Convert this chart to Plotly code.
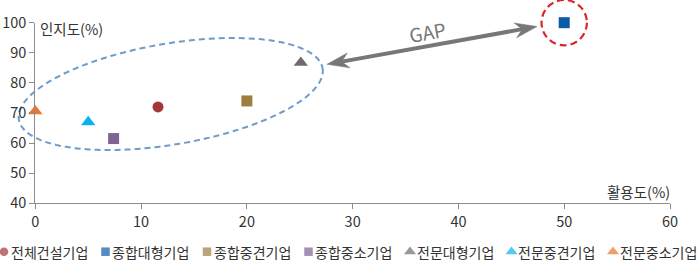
import math
import plotly.graph_objects as go

# ---------------- data ----------------
categories = ['전체건설기업', '종합대형기업', '종합중견기업', '종합중소기업',
              '전문대형기업', '전문중견기업', '전문중소기업']
utilization = [11.6, 50, 20, 7.4, 25.1, 5, 0]          # 활용도(%)
awareness = [72, 100, 74, 61.5, 86.7, 67, 70.6]        # 인지도(%)
x_ticks = [0, 10, 20, 30, 40, 50, 60]
y_ticks = [40, 50, 60, 70, 80, 90, 100]

# ---------------- styles ----------------
symbols = ['circle', 'square', 'square', 'square',
           'triangle-up', 'triangle-up', 'triangle-up']
colors = ['#a3373b', '#0b5aa7', '#9c7e40', '#7f6491',
          '#6d6d6f', '#08b2ef', '#e8782a']
sizes = [11, 11, 11, 11, 12.5, 12.5, 12.5]
legend_sizes = [8.5, 8.5, 8.5, 8.5, 10.5, 10.5, 10.5]

FONT = 'Noto Sans CJK KR, Noto Sans, sans-serif'
W, H = 700, 273
PX_L, PX_R = 35.33, 670.0      # plot area pixel edges
PY_T, PY_B = 22.67, 203.3
XR = (0, 60)
YR = (40, 100)


def px_x(v):
    return PX_L + (v - XR[0]) / (XR[1] - XR[0]) * (PX_R - PX_L)


def px_y(v):
    return PY_T + (YR[1] - v) / (YR[1] - YR[0]) * (PY_B - PY_T)


def pap_x(p):
    return p / W


def pap_y(p):
    return 1 - p / H


fig = go.Figure()

for i, name in enumerate(categories):
    fig.add_trace(go.Scatter(
        x=[utilization[i]], y=[awareness[i]], mode='markers', name=name,
        marker=dict(symbol=symbols[i], color=colors[i], size=sizes[i], line=dict(width=0)),
        cliponaxis=False, showlegend=False, hoverinfo='name+x+y'))

# custom compact legend on a hidden pixel-scaled axis
LEG_Y = 251.7
LEG_X0 = 4
LEG_PITCH = 101.5
leg_x = [LEG_X0 + i * LEG_PITCH for i in range(len(categories))]
fig.add_trace(go.Scatter(
    x=leg_x, y=[LEG_Y] * len(categories), mode='markers', xaxis='x2', yaxis='y2',
    marker=dict(symbol=symbols, color=colors, size=legend_sizes, line=dict(width=0)),
    cliponaxis=False, showlegend=False, hoverinfo='skip'))

annotations = []
for i, name in enumerate(categories):
    annotations.append(dict(
        x=pap_x(leg_x[i] + 4.5), y=pap_y(LEG_Y), xref='paper', yref='paper',
        text=name, showarrow=False, xanchor='left', yanchor='middle',
        font=dict(family=FONT, size=14, color='#333333')))

# axis titles
annotations.append(dict(
    x=pap_x(38), y=pap_y(28.5), xref='paper', yref='paper', text='인지도(%)',
    showarrow=False, xanchor='left', yanchor='middle',
    font=dict(family=FONT, size=14.5, color='#333333')))
annotations.append(dict(
    x=pap_x(672), y=pap_y(191.5), xref='paper', yref='paper', text='활용도(%)',
    showarrow=False, xanchor='right', yanchor='middle',
    font=dict(family=FONT, size=14.5, color='#333333')))

# GAP label
annotations.append(dict(
    x=pap_x(427.5), y=pap_y(31), xref='paper', yref='paper', text='GAP',
    showarrow=False, textangle=-10, xanchor='center', yanchor='middle',
    font=dict(family=FONT, size=19, color='#777777')))

shapes = []

# dashed ellipse around the small/mid firms
ELL_CX, ELL_CY = 12.8, 76.3
ELL_A, ELL_B, ELL_ANG = 154.0, 50.5, math.radians(9.6)
cx, cy = px_x(ELL_CX), px_y(ELL_CY)
pts = []
for k in range(181):
    t = 2 * math.pi * k / 180
    ex = ELL_A * math.cos(t)
    ey = ELL_B * math.sin(t)
    X = cx + ex * math.cos(ELL_ANG) + ey * math.sin(ELL_ANG)
    Y = cy - ex * math.sin(ELL_ANG) + ey * math.cos(ELL_ANG)
    pts.append((pap_x(X), pap_y(Y)))
path = 'M ' + ' L '.join(f'{a:.5f},{b:.5f}' for a, b in pts) + ' Z'
shapes.append(dict(type='path', path=path, xref='paper', yref='paper',
                   line=dict(color='#6e9bc9', width=2, dash='6px,4px'), layer='below'))

# red dashed circle around the leader
R = 22.7
ccx, ccy = px_x(utilization[1]), px_y(awareness[1])
shapes.append(dict(type='circle', xref='paper', yref='paper',
                   x0=pap_x(ccx - R), x1=pap_x(ccx + R),
                   y0=pap_y(ccy + R), y1=pap_y(ccy - R),
                   line=dict(color='#d9262a', width=2.2, dash='7px,4px'), layer='below'))

# double-headed GAP arrow
LT = (px_x(27.57), px_y(86.17))
RT = (px_x(47.43), px_y(98.73))
dx, dy = RT[0] - LT[0], RT[1] - LT[1]
L = math.hypot(dx, dy)
ux, uy = dx / L, dy / L
nx, ny = -uy, ux
HEAD_L, HEAD_W, NOTCH = 22, 7.5, 15
ARROW_C = '#777777'
shapes.append(dict(type='line', xref='paper', yref='paper',
                   x0=pap_x(LT[0] + ux * NOTCH), y0=pap_y(LT[1] + uy * NOTCH),
                   x1=pap_x(RT[0] - ux * NOTCH), y1=pap_y(RT[1] - uy * NOTCH),
                   line=dict(color=ARROW_C, width=4)))
for tip, s in ((LT, 1), (RT, -1)):
    p = [tip,
         (tip[0] + s * ux * HEAD_L + nx * HEAD_W, tip[1] + s * uy * HEAD_L + ny * HEAD_W),
         (tip[0] + s * ux * NOTCH, tip[1] + s * uy * NOTCH),
         (tip[0] + s * ux * HEAD_L - nx * HEAD_W, tip[1] + s * uy * HEAD_L - ny * HEAD_W)]
    hp = 'M ' + ' L '.join(f'{pap_x(a):.5f},{pap_y(b):.5f}' for a, b in p) + ' Z'
    shapes.append(dict(type='path', path=hp, xref='paper', yref='paper',
                       fillcolor=ARROW_C, line=dict(color=ARROW_C, width=0.5)))

axis_common = dict(showgrid=False, zeroline=False, showline=True, linecolor='#8c8c8c',
                   linewidth=1.2, ticks='outside', ticklen=5, tickcolor='#8c8c8c',
                   tickwidth=1.2, automargin=False,
                   tickfont=dict(family=FONT, size=14.5, color='#333333'))

leg_dom = 0.16
fig.update_layout(
    width=W, height=H, margin=dict(l=0, r=0, t=0, b=0, autoexpand=False),
    paper_bgcolor='white', plot_bgcolor='white',
    showlegend=False,
    xaxis=dict(range=list(XR), tickvals=x_ticks, domain=[PX_L / W, PX_R / W],
               anchor='y', **axis_common),
    yaxis=dict(range=list(YR), tickvals=y_ticks, domain=[1 - PY_B / H, 1 - PY_T / H],
               anchor='x', **axis_common),
    xaxis2=dict(range=[0, W], domain=[0, 1], visible=False, anchor='y2', fixedrange=True),
    yaxis2=dict(range=[H, H - leg_dom * H], domain=[0, leg_dom], visible=False,
                anchor='x2', fixedrange=True),
    annotations=annotations, shapes=shapes,
)

fig.write_html('out.html')
